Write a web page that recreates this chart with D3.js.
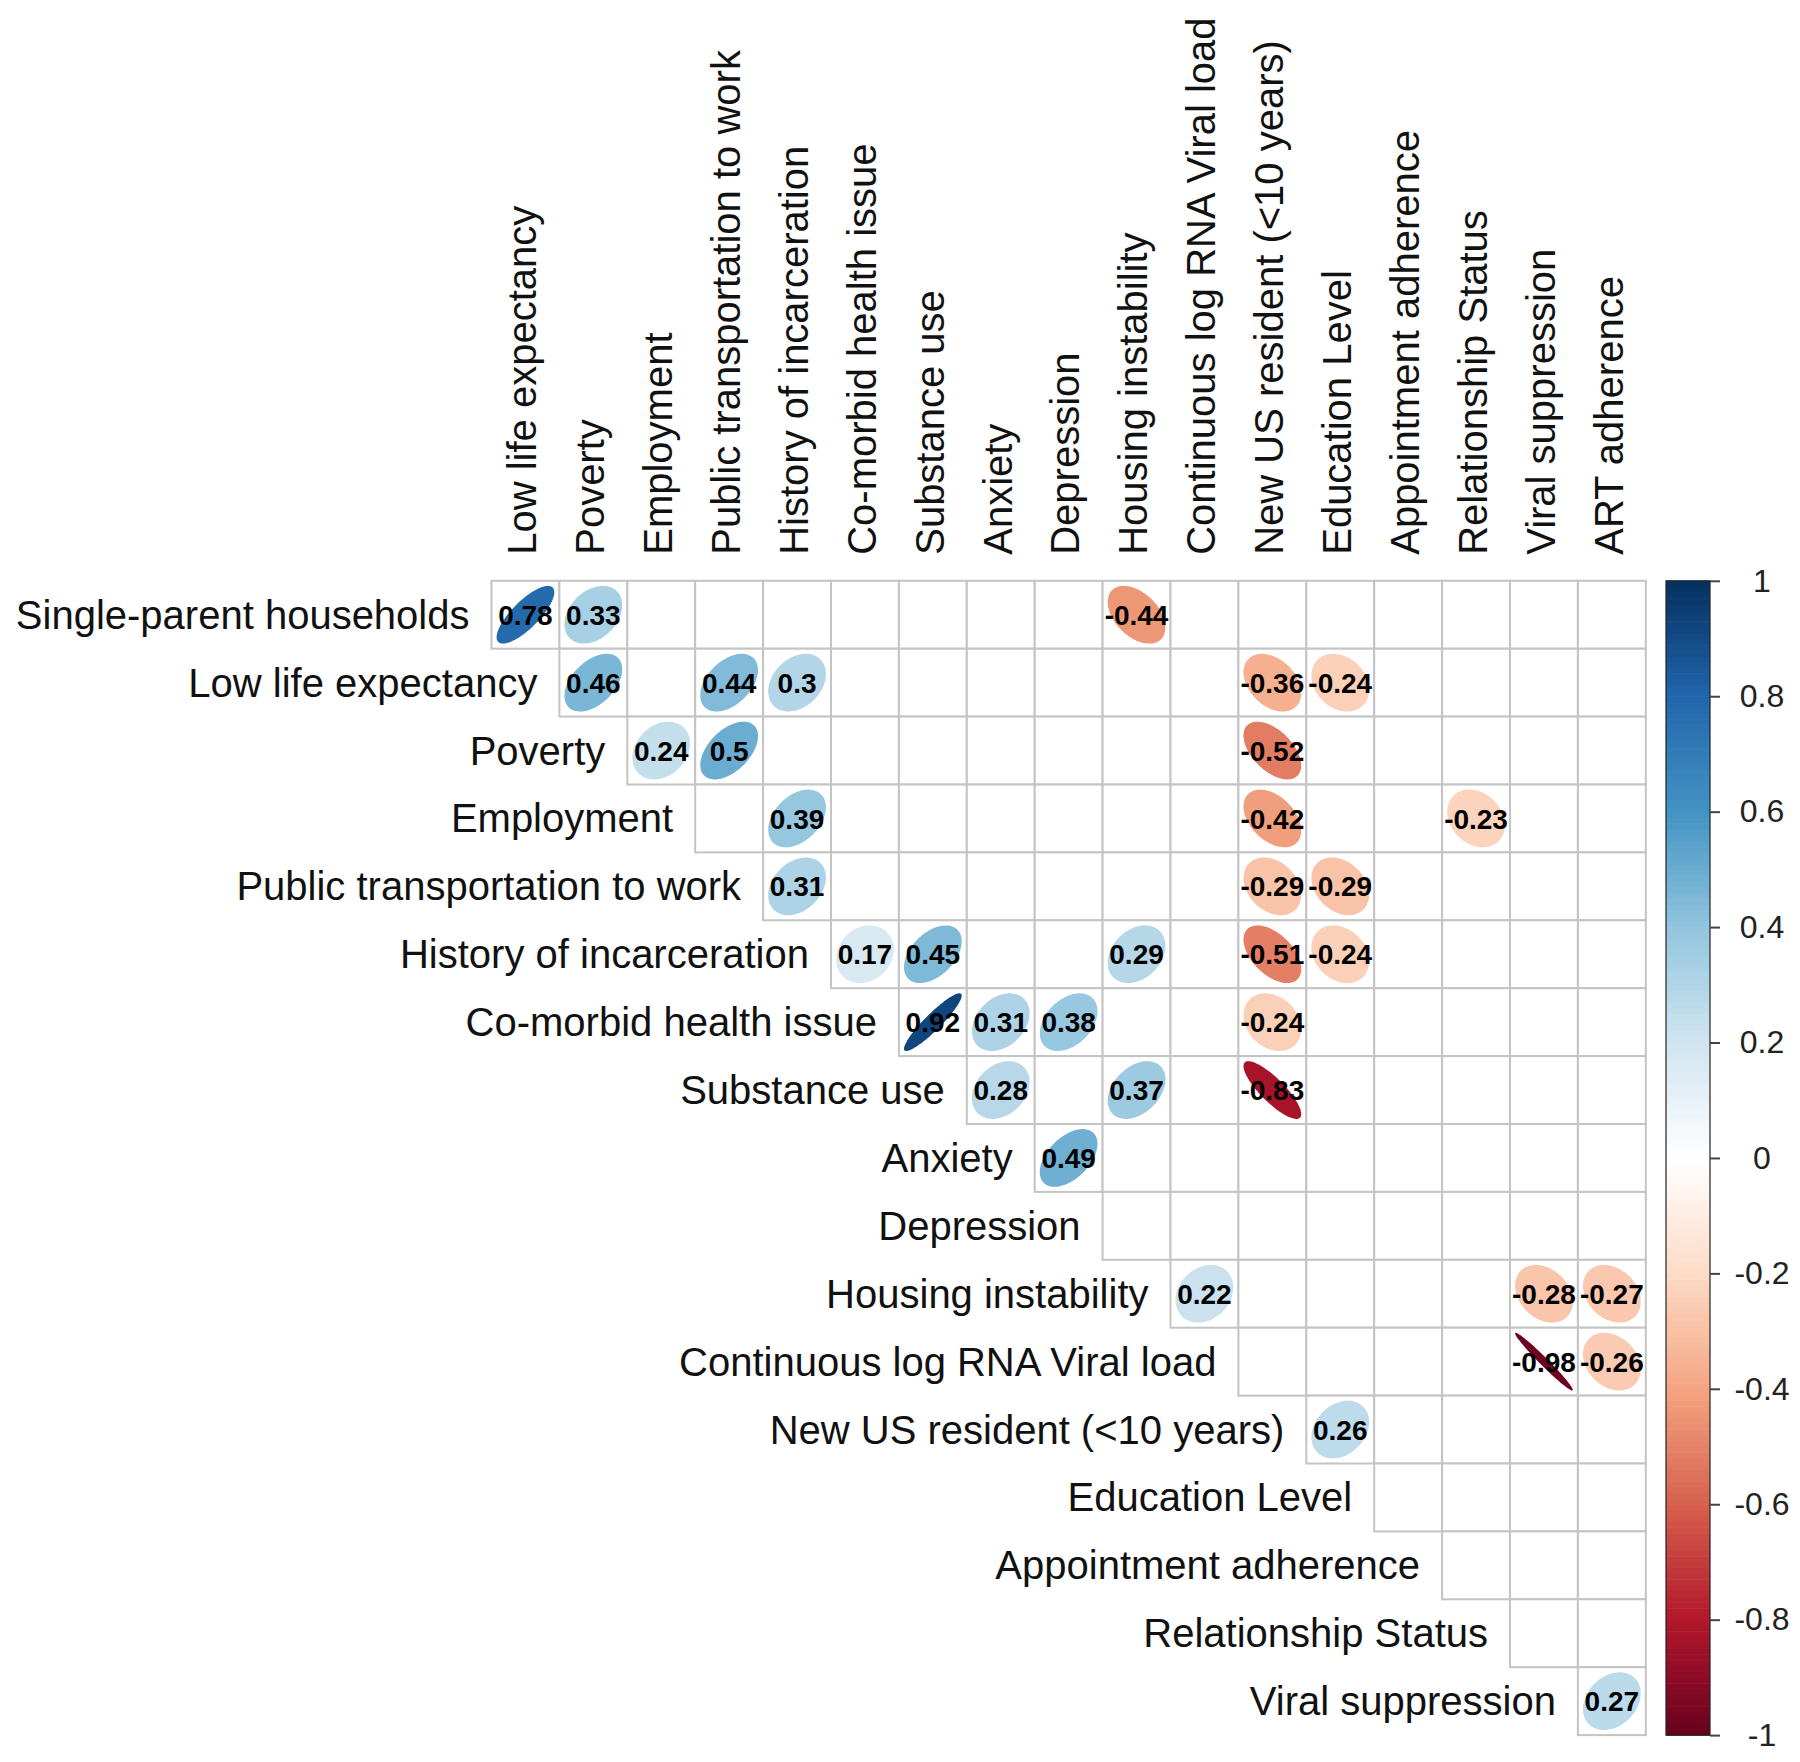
<!DOCTYPE html>
<html>
<head>
<meta charset="utf-8">
<script src="https://cdn.jsdelivr.net/npm/d3@7"></script>
<style>
  html, body { margin: 0; padding: 0; background: #ffffff; }
  svg { display: block; }
</style>
</head>
<body>
<svg id="chart" width="1800" height="1762"></svg>
<script>
// ---------------- data ----------------
const rowLabels = [
  "Single-parent households", "Low life expectancy", "Poverty", "Employment",
  "Public transportation to work", "History of incarceration", "Co-morbid health issue",
  "Substance use", "Anxiety", "Depression", "Housing instability",
  "Continuous log RNA Viral load", "New US resident (<10 years)", "Education Level",
  "Appointment adherence", "Relationship Status", "Viral suppression"
];
const colLabels = [
  "Low life expectancy", "Poverty", "Employment", "Public transportation to work",
  "History of incarceration", "Co-morbid health issue", "Substance use", "Anxiety",
  "Depression", "Housing instability", "Continuous log RNA Viral load",
  "New US resident (<10 years)", "Education Level", "Appointment adherence",
  "Relationship Status", "Viral suppression", "ART adherence"
];
// correlation shown per row (null = blank cell); row i covers columns i..16
const _ = null;
const corrValues = [
  [0.78, 0.33, _, _, _, _, _, _, _, -0.44, _, _, _, _, _, _, _],
  [_, 0.46, _, 0.44, 0.3, _, _, _, _, _, _, -0.36, -0.24, _, _, _, _],
  [_, _, 0.24, 0.5, _, _, _, _, _, _, _, -0.52, _, _, _, _, _],
  [_, _, _, _, 0.39, _, _, _, _, _, _, -0.42, _, _, -0.23, _, _],
  [_, _, _, _, 0.31, _, _, _, _, _, _, -0.29, -0.29, _, _, _, _],
  [_, _, _, _, _, 0.17, 0.45, _, _, 0.29, _, -0.51, -0.24, _, _, _, _],
  [_, _, _, _, _, _, 0.92, 0.31, 0.38, _, _, -0.24, _, _, _, _, _],
  [_, _, _, _, _, _, _, 0.28, _, 0.37, _, -0.83, _, _, _, _, _],
  [_, _, _, _, _, _, _, _, 0.49, _, _, _, _, _, _, _, _],
  [_, _, _, _, _, _, _, _, _, _, _, _, _, _, _, _, _],
  [_, _, _, _, _, _, _, _, _, _, 0.22, _, _, _, _, -0.28, -0.27],
  [_, _, _, _, _, _, _, _, _, _, _, _, _, _, _, -0.98, -0.26],
  [_, _, _, _, _, _, _, _, _, _, _, _, 0.26, _, _, _, _],
  [_, _, _, _, _, _, _, _, _, _, _, _, _, _, _, _, _],
  [_, _, _, _, _, _, _, _, _, _, _, _, _, _, _, _, _],
  [_, _, _, _, _, _, _, _, _, _, _, _, _, _, _, _, _],
  [_, _, _, _, _, _, _, _, _, _, _, _, _, _, _, _, 0.27]
];
const colorStops = ["#67001F", "#B2182B", "#D6604D", "#F4A582", "#FDDBC7", "#FFFFFF",
                    "#D1E5F0", "#92C5DE", "#4393C3", "#2166AC", "#053061"];
const legendTicks = [1, 0.8, 0.6, 0.4, 0.2, 0, -0.2, -0.4, -0.6, -0.8, -1];

// ---------------- layout ----------------
const cell = 67.9;
const gx0 = 491.5, gy0 = 580.8;
const n = colLabels.length;

const svg = d3.select("#chart");
const x = d3.scaleBand().domain(d3.range(n)).range([gx0, gx0 + n * cell]);
const y = d3.scaleBand().domain(d3.range(rowLabels.length)).range([gy0, gy0 + rowLabels.length * cell]);
const color = d3.scaleLinear()
  .domain(d3.range(colorStops.length).map(i => -1 + i * 0.2))
  .range(colorStops)
  .interpolate(d3.interpolateRgb);

// cells
const cells = [];
rowLabels.forEach((rl, i) => {
  for (let j = i; j < n; j++) cells.push({ i, j, v: corrValues[i][j] });
});

const gGrid = svg.append("g");
gGrid.selectAll("rect").data(cells).join("rect")
  .attr("x", d => x(d.j)).attr("y", d => y(d.i))
  .attr("width", cell).attr("height", cell)
  .attr("fill", "#ffffff").attr("stroke", "#c4c4c4").attr("stroke-width", 2);

// ellipses (corrplot shape)
const ellLine = d3.line().curve(d3.curveLinearClosed);
function ellipsePts(d) {
  const cx = x(d.j) + cell / 2, cy = y(d.i) + cell / 2;
  const a = Math.acos(d.v) / 2;
  return d3.range(100).map(k => {
    const t = k / 100 * 2 * Math.PI;
    return [cx + 0.425 * cell * Math.cos(t + a), cy - 0.425 * cell * Math.cos(t - a)];
  });
}
const filled = cells.filter(d => d.v !== null);
svg.append("g").selectAll("path").data(filled).join("path")
  .attr("d", d => ellLine(ellipsePts(d)))
  .attr("fill", d => color(d.v));

svg.append("g").selectAll("text").data(filled).join("text")
  .attr("x", d => x(d.j) + cell / 2)
  .attr("y", d => y(d.i) + cell / 2)
  .attr("dy", "0.36em")
  .attr("text-anchor", "middle")
  .attr("font-family", "'Liberation Sans', Arial, sans-serif")
  .attr("font-weight", "bold")
  .attr("font-size", 28)
  .attr("fill", "#000")
  .text(d => String(d.v));

// row labels
svg.append("g").selectAll("text").data(rowLabels).join("text")
  .attr("x", (d, i) => x(i) - 22)
  .attr("y", (d, i) => y(i) + cell / 2)
  .attr("dy", "0.35em")
  .attr("text-anchor", "end")
  .attr("font-family", "'Liberation Sans', Arial, sans-serif")
  .attr("font-size", 40)
  .attr("fill", "#111")
  .text(d => d);

// column labels
svg.append("g").selectAll("text").data(colLabels).join("text")
  .attr("transform", (d, j) => `translate(${x(j) + cell / 2},${gy0 - 26}) rotate(-90)`)
  .attr("dy", "0.27em")
  .attr("text-anchor", "start")
  .attr("font-family", "'Liberation Sans', Arial, sans-serif")
  .attr("font-size", 40)
  .attr("fill", "#111")
  .text(d => d);

// colour legend
const barX = 1666, barW = 44;
const barTop = gy0, barBottom = gy0 + rowLabels.length * cell;
const ly = d3.scaleLinear().domain([-1, 1]).range([barBottom, barTop]);
const steps = d3.range(200).map(k => -1 + (k + 0.5) * 0.01);
svg.append("g").selectAll("rect").data(steps).join("rect")
  .attr("x", barX)
  .attr("y", d => ly(d + 0.005))
  .attr("width", barW)
  .attr("height", ly(-1) - ly(-0.99) + 0.6)
  .attr("fill", d => color(d));
svg.append("rect")
  .attr("x", barX).attr("y", barTop).attr("width", barW).attr("height", barBottom - barTop)
  .attr("fill", "none").attr("stroke", "#222").attr("stroke-width", 1.2);

const axis = d3.axisRight(ly).tickValues(legendTicks).tickSize(10).tickFormat(d => String(d));
const gAxis = svg.append("g").attr("transform", `translate(${barX + barW},0)`).call(axis);
gAxis.select(".domain").remove();
gAxis.selectAll(".tick line").attr("stroke", "#444").attr("stroke-width", 2);
gAxis.selectAll(".tick text")
  .attr("x", 52).attr("text-anchor", "middle")
  .attr("font-family", "'Liberation Sans', Arial, sans-serif")
  .attr("font-size", 32).attr("fill", "#222");
</script>
</body>
</html>
